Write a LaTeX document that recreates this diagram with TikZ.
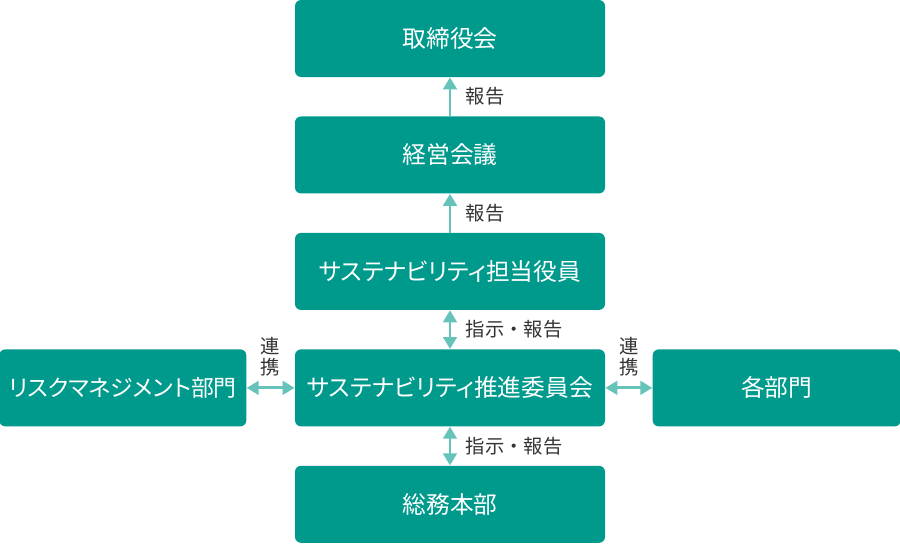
\documentclass[tikz,border=0pt]{standalone}
\usepackage{fontspec}
\setmainfont{Noto Sans CJK JP}
\newfontfamily\boxfont[RawFeature=+palt]{Noto Sans CJK JP}
\usetikzlibrary{positioning,arrows.meta}

\definecolor{boxteal}{HTML}{009A8D}
\definecolor{arrteal}{HTML}{66C3B9}
\definecolor{labgray}{HTML}{333333}

\begin{document}
\begin{tikzpicture}[node distance={0.775cm},
  box/.style = {fill=boxteal, rounded corners=0.12cm, text=white, font=\boxfont\fontsize{13.5}{16}\selectfont,
    minimum width=6.2cm, minimum height=1.54cm, inner sep=0pt},
  arr/.style = {draw=arrteal, line width=1.7pt, -{Triangle[length=0.24cm,width=0.27cm]}},
  biarr/.style = {draw=arrteal, line width=1.7pt, {Triangle[length=0.24cm,width=0.27cm]}-{Triangle[length=0.24cm,width=0.27cm]}},
  lab/.style = {text=labgray, font=\fontsize{11}{13}\selectfont, inner sep=1pt}]
\useasboundingbox (0,0) rectangle (18,-10.88);
\node[box] (board) at (9,-0.77) {取締役会};
\node[box] (mgmt) [below=of board] {経営会議};
\node[box] (officer) [below=of mgmt] {サステナビリティ担当役員};
\node[box] (comm) [below=of officer] {サステナビリティ推進委員会};
\node[box] (gen) [below=of comm] {総務本部};
\node[box, minimum width=4.94cm, font=\boxfont\fontsize{13}{16}\selectfont] (risk) [left=0.96cm of comm] {リスクマネジメント部門};
\node[box, minimum width=4.96cm] (dept) [right=0.94cm of comm] {各部門};
\draw[arr] (mgmt) -- (board) node[lab, midway, right=0.25cm] (l1) {報告};
\draw[arr] (officer) -- (mgmt) node[lab, midway, right=0.25cm] (l2) {報告};
\draw[biarr] (comm) -- (officer) node[lab, midway, right=0.25cm] (l3) {指示・報告};
\draw[biarr] (gen) -- (comm) node[lab, midway, right=0.25cm] (l4) {指示・報告};
\draw[biarr] (risk) -- (comm) node[lab, midway, above=0.18cm, align=center] (l5) {連\\[-1.5pt]携};
\draw[biarr] (comm) -- (dept) node[lab, midway, above=0.18cm, align=center] (l6) {連\\[-1.5pt]携};
\end{tikzpicture}
\end{document}
